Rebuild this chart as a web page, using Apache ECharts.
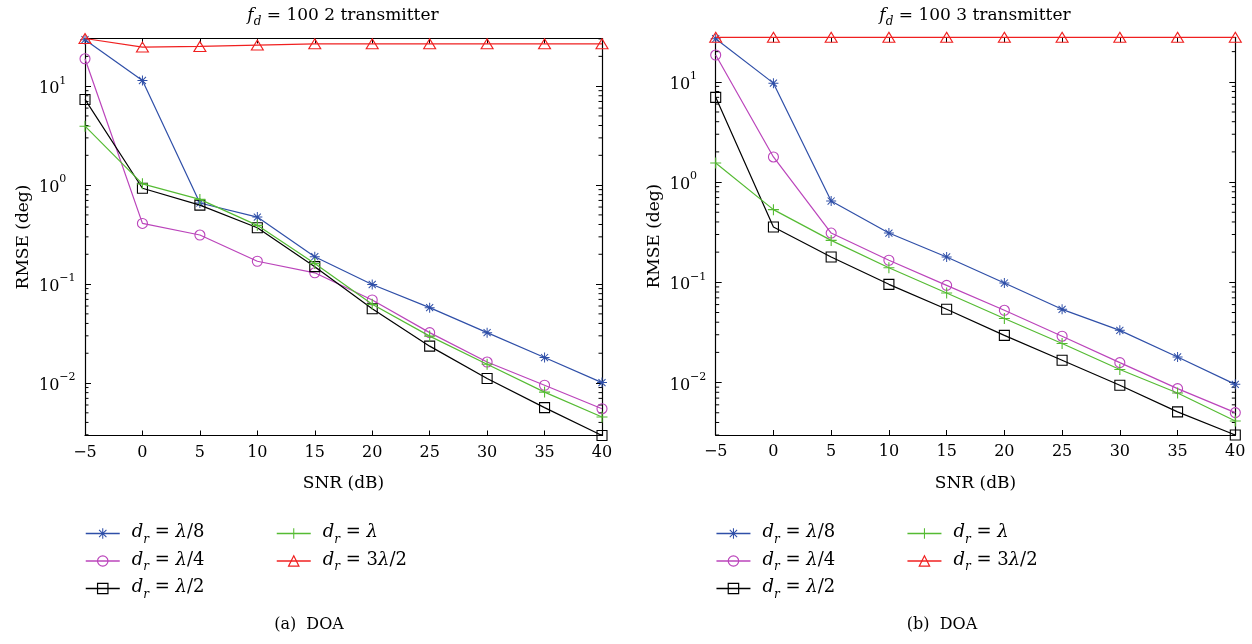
<!DOCTYPE html>
<html><head><meta charset="utf-8">
<script src="https://cdn.jsdelivr.net/npm/echarts@6/dist/echarts.min.js"></script>
<style>html,body{margin:0;padding:0;background:#fff}#c{width:1252px;height:644px}</style>
</head><body><div id="c"></div>
<script>
// ---------------- data ----------------
const snr = [-5, 0, 5, 10, 15, 20, 25, 30, 35, 40];
const seriesNames = ['λ/8', 'λ/4', 'λ/2', 'λ', '3λ/2'];

// (a) 2 transmitters
const blueA    = [29.5, 11.4, 0.66, 0.475, 0.189, 0.099, 0.0578, 0.0323, 0.0181, 0.0101];
const magentaA = [18.9, 0.41, 0.313, 0.17, 0.13, 0.069, 0.0323, 0.0163, 0.0095, 0.0055];
const blackA   = [7.34, 0.93, 0.628, 0.371, 0.15, 0.0564, 0.0236, 0.0111, 0.00564, 0.00295];
const greenA   = [3.94, 1.03, 0.717, 0.392, 0.161, 0.0624, 0.0298, 0.0155, 0.0081, 0.00454];
const redA     = [30.3, 24.8, 25.2, 26.0, 26.8, 26.8, 26.8, 26.8, 26.8, 26.8];

// (b) 3 transmitters
const blueB    = [26.9, 9.7, 0.647, 0.31, 0.179, 0.0984, 0.0538, 0.0332, 0.018, 0.0096];
const magentaB = [18.5, 1.78, 0.31, 0.166, 0.0933, 0.0526, 0.029, 0.0158, 0.0087, 0.00502];
const blackB   = [7.0, 0.356, 0.179, 0.0955, 0.0538, 0.0296, 0.0167, 0.0094, 0.0051, 0.003];
const greenB   = [1.55, 0.531, 0.262, 0.14, 0.0782, 0.0435, 0.0245, 0.0135, 0.00787, 0.00414];
const redB     = [27.8, 27.8, 27.8, 27.8, 27.8, 27.8, 27.8, 27.8, 27.8, 27.8];

const xRange  = [-5, 40];
const yRangeA = [0.00295, 30.3];
const yRangeB = [0.003, 27.8];
const minorTickValues = [0.002, 0.003, 0.004, 0.005, 0.006, 0.007, 0.008, 0.009,
  0.02, 0.03, 0.04, 0.05, 0.06, 0.07, 0.08, 0.09,
  0.2, 0.3, 0.4, 0.5, 0.6, 0.7, 0.8, 0.9,
  2, 3, 4, 5, 6, 7, 8, 9, 20, 30];

// ---------------- styles ----------------
const FONT = 'DejaVu Serif';
const STAR = 'path://M9,0 L11,0 L11,20 L9,20 Z M0,9 L20,9 L20,11 L0,11 Z M3.64,2.22 L17.78,16.36 L16.36,17.78 L2.22,3.64 Z M17.78,3.64 L3.64,17.78 L2.22,16.36 L16.36,2.22 Z';
const PLUS = 'path://M9,0 L11,0 L11,20 L9,20 Z M0,9 L20,9 L20,11 L0,11 Z';
const looks = [
  {color: '#2F4FA8', symbol: STAR, size: 10, filled: true},
  {color: '#BB44BB', symbol: 'circle', size: 10, filled: false},
  {color: '#000000', symbol: 'rect', size: 10, filled: false},
  {color: '#55BB33', symbol: PLUS, size: 11, filled: true},
  {color: '#F02020', symbol: 'triangle', size: [12, 10], filled: false}
];

const chart = echarts.init(document.getElementById('c'), null, {renderer: 'canvas'});

const baseTok = {fontFamily: FONT, fontSize: 18, color: '#000', padding: [2, 0, 4, 0]};
const legendRich = {
  n: Object.assign({}, baseTok),
  i: Object.assign({}, baseTok, {fontStyle: 'italic'}),
  s: {fontFamily: FONT, fontStyle: 'italic', fontSize: 12, color: '#000', verticalAlign: 'bottom'}
};
function legendText(name) {
  const parts = name.split('λ');
  let s = '{i|d}{s|r}{n| = }';
  if (parts[0]) s += '{n|' + parts[0] + '}';
  s += '{i|λ}';
  if (parts[1]) s += '{n|' + parts[1] + '}';
  return s;
}
function yLabel(v) {
  const l = Math.log10(v);
  const r = Math.round(l);
  if (Math.abs(l - r) > 1e-6) return '';
  return '{b|10}{p|' + (r < 0 ? '−' + Math.abs(r) : r) + '}';
}
const yRich = {
  b: {fontFamily: FONT, fontSize: 16, color: '#000', padding: [6, 0, 0, 0]},
  p: {fontFamily: FONT, fontSize: 11, color: '#000', verticalAlign: 'top'}
};

const grids = [
  {left: 85, top: 38.5, width: 517, height: 397},
  {left: 715.7, top: 37.3, width: 519.6, height: 397.7}
];
const yRanges = [yRangeA, yRangeB];
const dataSets = [[blueA, magentaA, blackA, greenA, redA], [blueB, magentaB, blackB, greenB, redB]];

const axisLine = {show: true, onZero: false, lineStyle: {color: '#000', width: 1.2}};
const xAxes = [], yAxes = [], series = [], legends = [];

for (let p = 0; p < 2; p++) {
  xAxes.push({
    gridIndex: p, type: 'value', min: xRange[0], max: xRange[1], interval: 5,
    axisLine, splitLine: {show: false},
    axisTick: {inside: true, length: 5, lineStyle: {color: '#000'}},
    axisLabel: {fontFamily: FONT, fontSize: 16, color: '#000', margin: 9,
      formatter: v => v < 0 ? '−' + Math.abs(v) : String(v)},
    name: 'SNR (dB)', nameLocation: 'middle', nameGap: 40,
    nameTextStyle: {fontFamily: FONT, fontSize: 17, color: '#000'}
  });
  xAxes.push({
    gridIndex: p, type: 'value', position: 'top', min: xRange[0], max: xRange[1], interval: 5,
    axisLine, splitLine: {show: false},
    axisTick: {inside: true, length: 5, lineStyle: {color: '#000'}},
    axisLabel: {show: false}
  });
  yAxes.push({
    gridIndex: p, type: 'log', logBase: 10, position: 'left', min: yRanges[p][0], max: yRanges[p][1],
    axisLine, splitLine: {show: false}, minorTick: {show: false},
    axisTick: {inside: true, length: 6, lineStyle: {color: '#000'}},
    axisLabel: {formatter: yLabel, rich: yRich, align: 'left', margin: 46},
    name: 'RMSE (deg)', nameLocation: 'middle', nameGap: 53,
    nameTextStyle: {fontFamily: FONT, fontSize: 17, color: '#000'}
  });
  yAxes.push({
    gridIndex: p, type: 'log', logBase: 10, position: 'right', min: yRanges[p][0], max: yRanges[p][1],
    axisLine, splitLine: {show: false}, minorTick: {show: false},
    axisTick: {inside: true, length: 6, lineStyle: {color: '#000'}},
    axisLabel: {show: false}
  });

  // minor log ticks on left and right edges
  const mins = minorTickValues.filter(v => v >= yRanges[p][0] && v <= yRanges[p][1]);
  series.push({
    type: 'custom', xAxisIndex: p * 2, yAxisIndex: p * 2, silent: true, clip: false,
    data: mins.map(v => [xRange[0], v]),
    renderItem: (params, api) => {
      const v = api.value(1);
      const a = api.coord([xRange[0], v]);
      const b = api.coord([xRange[1], v]);
      return {type: 'group', children: [
        {type: 'line', shape: {x1: a[0], y1: a[1], x2: a[0] + 3.5, y2: a[1]}, style: {stroke: '#000', lineWidth: 1}},
        {type: 'line', shape: {x1: b[0], y1: b[1], x2: b[0] - 3.5, y2: b[1]}, style: {stroke: '#000', lineWidth: 1}}
      ]};
    },
    z: 1
  });

  for (let k = 0; k < 5; k++) {
    const lk = looks[k];
    const vals = dataSets[p][k];
    series.push({
      type: 'line', name: seriesNames[k], xAxisIndex: p * 2, yAxisIndex: p * 2,
      data: snr.map((x, i) => [x, vals[i]]),
      symbol: lk.symbol, symbolSize: lk.size, showAllSymbol: true,
      itemStyle: {color: lk.filled ? lk.color : 'rgba(0,0,0,0)', borderColor: lk.color, borderWidth: lk.filled ? 0 : 1.1},
      lineStyle: {color: lk.color, width: 1.2},
      clip: false, emphasis: {disabled: true}, z: 3 + k
    });
  }
}

const legendPos = [
  [[85, 530], [85, 557.5], [85, 585], [276, 530], [276, 557.5]],
  [[715.7, 530], [715.7, 557.5], [715.7, 585], [906.7, 530], [906.7, 557.5]]
];
for (let p = 0; p < 2; p++) {
  for (let k = 0; k < 5; k++) {
    const lk = looks[k];
    legends.push({
      data: [seriesNames[k]], left: legendPos[p][k][0], top: legendPos[p][k][1] - 6.5,
      padding: 0, itemWidth: 34, itemHeight: 13, selectedMode: false,
      inactiveColor: lk.color, inactiveBorderColor: lk.color,
      itemStyle: {color: lk.filled ? lk.color : 'rgba(0,0,0,0)', borderColor: lk.color, borderWidth: lk.filled ? 0 : 1.2},
      lineStyle: {color: lk.color, width: 1.5},
      formatter: legendText,
      textStyle: {padding: [0, 0, 0, 7], rich: legendRich}
    });
  }
}

const titleRich = {
  n: {fontFamily: FONT, fontSize: 17, fontWeight: 'normal', color: '#000', padding: [2, 0, 4, 0]},
  i: {fontFamily: FONT, fontSize: 17, fontWeight: 'normal', fontStyle: 'italic', color: '#000', padding: [2, 0, 4, 0]},
  s: {fontFamily: FONT, fontSize: 12, fontWeight: 'normal', fontStyle: 'italic', color: '#000', verticalAlign: 'bottom'}
};
const capStyle = {fontFamily: FONT, fontSize: 16, fontWeight: 'normal', color: '#000'};

chart.setOption({
  animation: false,
  backgroundColor: '#fff',
  title: [
    {text: '{i|f}{s|d}{n| = 100 2 transmitter}', left: 343, top: 5, textAlign: 'center', padding: 0, textStyle: {rich: titleRich}},
    {text: '{i|f}{s|d}{n| = 100 3 transmitter}', left: 975, top: 5, textAlign: 'center', padding: 0, textStyle: {rich: titleRich}},
    {text: '(a)  DOA', left: 309, top: 617, textAlign: 'center', padding: 0, textStyle: capStyle},
    {text: '(b)  DOA', left: 942, top: 617, textAlign: 'center', padding: 0, textStyle: capStyle}
  ],
  grid: grids,
  xAxis: xAxes,
  yAxis: yAxes,
  legend: legends,
  series: series
});
</script>
</body></html>
